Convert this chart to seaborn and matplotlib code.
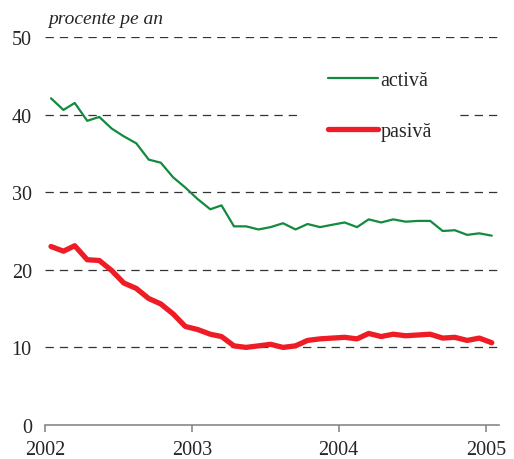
import pandas as pd
import seaborn as sns
import matplotlib.pyplot as plt
import matplotlib.dates as mdates

sns.set_style("white")
plt.rcParams['font.family'] = ['Liberation Serif', 'DejaVu Serif']
plt.rcParams['lines.scale_dashes'] = False

# monthly data, Jan 2002 - Jan 2005 (percent per year)
months = pd.date_range("2002-01-01", "2005-01-01", freq="MS") + pd.Timedelta(days=15)

activa = [42.1, 40.6, 41.5, 39.2, 39.7, 38.2, 37.2, 36.3, 34.2, 33.8,
          31.9, 30.6, 29.1, 27.8, 28.3, 25.6, 25.6, 25.2, 25.5, 26.0,
          25.2, 25.9, 25.5, 25.8, 26.1, 25.5, 26.5, 26.1, 26.5, 26.2,
          26.3, 26.3, 25.0, 25.1, 24.5, 24.7, 24.4]

pasiva = [23.0, 22.4, 23.1, 21.3, 21.2, 19.9, 18.3, 17.6, 16.3, 15.6,
          14.3, 12.7, 12.3, 11.7, 11.4, 10.2, 10.0, 10.2, 10.4, 10.0,
          10.2, 10.9, 11.1, 11.2, 11.3, 11.1, 11.8, 11.4, 11.7, 11.5,
          11.6, 11.7, 11.2, 11.3, 10.9, 11.2, 10.6]

df = pd.DataFrame({"luna": months, "activa": activa, "pasiva": pasiva})

fig = plt.figure(figsize=(5.14, 4.6), dpi=100)
ax = fig.add_axes([0.0875, 0.0739, 0.8833, 0.8435])

sns.lineplot(data=df, x="luna", y="activa", ax=ax, color="#138a3e",
             linewidth=1.6, label="activă")
sns.lineplot(data=df, x="luna", y="pasiva", ax=ax, color="#ee1c25",
             linewidth=3.8, label="pasivă", solid_capstyle="round")

# axes styling
ax.set_ylim(0, 50)
ax.set_xlim(pd.Timestamp("2002-01-01"), pd.Timestamp("2005-02-03"))
ax.set_yticks([0, 10, 20, 30, 40, 50])
ax.xaxis.set_major_locator(mdates.YearLocator())
ax.xaxis.set_major_formatter(mdates.DateFormatter("%Y"))
ax.set_xlabel("")
ax.set_ylabel("")

for s in ["top", "right", "left"]:
    ax.spines[s].set_visible(False)
ax.spines["bottom"].set_color("#888888")
ax.spines["bottom"].set_linewidth(1.2)

ax.tick_params(axis="x", direction="out", length=5, width=1.2, color="#888888",
               labelsize=14.5, pad=6, bottom=True)
ax.tick_params(axis="y", length=0, labelsize=14.5, pad=9.5)

# dashed horizontal grid (not at zero)
for v in [10, 20, 30, 40, 50]:
    ax.axhline(v, color="#333333", linewidth=0.9, linestyle=(0, (6, 4.3)), zorder=0)

# legend
leg = ax.legend(loc="upper left", bbox_to_anchor=(0.544, 1.006), fontsize=14.5,
                handlelength=2.45, handletextpad=0.15, labelspacing=1.6,
                borderpad=1.3, frameon=True, fancybox=False)
leg.get_frame().set_facecolor("white")
leg.get_frame().set_edgecolor("none")
leg.get_frame().set_alpha(1)

fig.text(0.093, 0.958, "procente pe an", fontsize=14, style="italic",
         ha="left", va="center")

plt.savefig("out.png", dpi=100)
